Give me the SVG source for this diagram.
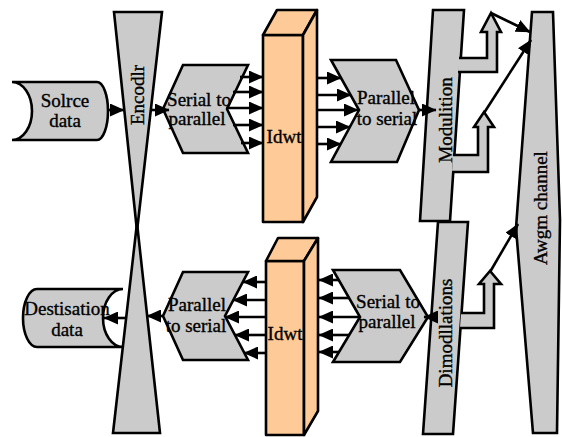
<svg xmlns="http://www.w3.org/2000/svg" width="562" height="437" viewBox="0 0 562 437">
  <defs>
    <marker id="ah" markerUnits="userSpaceOnUse" markerWidth="15" markerHeight="13" refX="14" refY="6.5" orient="auto">
      <path d="M0,0 L14.5,6.5 L0,13 Z" fill="#000"/>
    </marker>
  </defs>
  <style>
    .sh { fill: #cbcbcb; stroke: #000; stroke-width: 2.6; stroke-linejoin: miter; }
    .or { fill: #fdca98; stroke: #000; stroke-width: 2.6; stroke-linejoin: round; }
    .ln { fill: none; stroke: #000; stroke-width: 2.6; marker-end: url(#ah); }
    .bk { fill: #cbcbcb; stroke: #000; stroke-width: 2.6; stroke-linejoin: miter; }
    text { font-family: "Liberation Serif", "Times New Roman", serif; font-size: 19px; fill: #000; stroke: #000; stroke-width: 0.35; }
    .c { text-anchor: middle; }
  </style>

  <rect width="562" height="437" fill="#fff"/>

  <!-- source -->
  <g id="source-data">
    <path class="sh" d="M12,82 L97,82 A11,29 0 0 1 97,140 L12,140 A20,29 0 0 0 12,82 Z"/>
    <text class="c" x="65" y="107">Solrce</text>
    <text class="c" x="65" y="127">data</text>
  </g>

  <!-- encoder (hourglass) -->
  <g id="encoder">
    <polygon class="sh" points="114,12 162,12 137,231"/>
    <polygon class="sh" points="137,223 160,433 113,433"/>
    <text class="c" transform="translate(137,95) rotate(-90)" y="6.5">Encodlr</text>
  </g>

  <!-- destination -->
  <g id="destination-data">
    <path class="sh" d="M37,289 L123,289 A20,29 0 0 0 123,347 L37,347 A14,29 0 0 1 37,289 Z"/>
    <text class="c" x="67" y="315">Destisation</text>
    <text class="c" x="67" y="336">data</text>
  </g>

  <!-- serial to parallel (transmit) -->
  <g id="serial-to-parallel-tx">
    <polygon class="sh" points="183,65 248,65 227,109 248,153 183,153 163,109"/>
    <text class="c" x="199" y="106">Serial to</text>
    <text class="c" x="197" y="125">parallel</text>
  </g>

  <!-- IDWT (transmit) -->
  <g id="idwt-tx">
    <rect class="or" x="263" y="35" width="40" height="187"/>
    <polygon class="or" points="263,35 277,10 317,10 303,35"/>
    <polygon class="or" points="303,35 317,10 317,197 303,222"/>
    <text class="c" x="284" y="143">Idwt</text>
  </g>

  <!-- parallel to serial (transmit) -->
  <g id="parallel-to-serial-tx">
    <polygon class="sh" points="331,60 396,60 419,110 397,162 331,162 359,110"/>
    <text class="c" x="386" y="104">Parallel</text>
    <text class="c" x="387" y="125">to serial</text>
  </g>

  <!-- modulation -->
  <g id="modulation">
    <polygon class="sh" points="433,10 464,10 450,221 420,221"/>
    <text class="c" transform="translate(445,120) rotate(-90)" y="6.5">Modulition</text>
  </g>

  <!-- demodulation -->
  <g id="demodulation">
    <polygon class="sh" points="438,222 468,222 453,434 423,434"/>
    <text class="c" transform="translate(445,333) rotate(-90)" y="6.5">Dimodllations</text>
  </g>

  <!-- AWGN channel -->
  <g id="awgm-channel">
    <path class="sh" d="M532,12 L553,12 L560,220 L557,433 L533,433 L516,228 Z"/>
    <text class="c" transform="translate(540,208) rotate(-90)" y="6.5">Awgm channel</text>
  </g>

  <!-- parallel to serial (receive) -->
  <g id="parallel-to-serial-rx">
    <polygon class="sh" points="183,272 248,272 225,316 248,360 183,360 163,316"/>
    <text class="c" x="197" y="311">Parallel</text>
    <text class="c" x="196" y="332">to serial</text>
  </g>

  <!-- IDWT (receive) -->
  <g id="idwt-rx">
    <rect class="or" x="266" y="261" width="38" height="174"/>
    <polygon class="or" points="266,261 278,238 318,238 304,261"/>
    <polygon class="or" points="304,261 318,238 318,411 304,435"/>
    <text class="c" x="285" y="340">Idwt</text>
  </g>

  <!-- serial to parallel (receive) -->
  <g id="serial-to-parallel-rx">
    <polygon class="sh" points="333,270 400,270 428,317 400,362 333,362 360,317"/>
    <text class="c" x="388" y="308">Serial to</text>
    <text class="c" x="387" y="328">parallel</text>
  </g>

  <!-- connectors -->
  <g id="connectors">
    <line class="ln" x1="108" y1="110" x2="124" y2="110"/>
    <line class="ln" x1="150" y1="110" x2="169" y2="110"/>

    <line class="ln" x1="240" y1="77" x2="263" y2="77"/>
    <line class="ln" x1="233" y1="92" x2="263" y2="92"/>
    <line class="ln" x1="226" y1="108" x2="263" y2="108"/>
    <line class="ln" x1="233" y1="125" x2="263" y2="125"/>
    <line class="ln" x1="241" y1="143" x2="263" y2="143"/>

    <line class="ln" x1="317" y1="78" x2="341" y2="78"/>
    <line class="ln" x1="317" y1="95" x2="351" y2="95"/>
    <line class="ln" x1="317" y1="110" x2="358" y2="110"/>
    <line class="ln" x1="317" y1="127" x2="350" y2="127"/>
    <line class="ln" x1="317" y1="144" x2="341" y2="144"/>

    <line class="ln" x1="418" y1="110" x2="436" y2="110"/>

    <path class="bk" d="M459,58 L487,58 L487,32 L481,32 L491,13 L501,32 L497,32 L497,72 L458,72"/>
    <path class="bk" d="M453,155 L478,155 L478,127 L474,127 L484,112 L494,127 L488,127 L488,172 L452,172"/>
    <line class="ln" x1="491" y1="13" x2="530" y2="32"/>
    <line class="ln" x1="484" y1="113" x2="531" y2="40"/>

    <path class="bk" d="M461,313 L484,313 L484,284 L479,284 L490,271 L501,284 L494,284 L494,328 L460,328"/>
    <line class="ln" x1="490" y1="272" x2="518" y2="224"/>

    <line class="ln" x1="438" y1="317" x2="424" y2="317"/>

    <line class="ln" x1="339" y1="280" x2="319" y2="280"/>
    <line class="ln" x1="349" y1="298" x2="319" y2="298"/>
    <line class="ln" x1="360" y1="317" x2="319" y2="317"/>
    <line class="ln" x1="349" y1="335" x2="319" y2="335"/>
    <line class="ln" x1="339" y1="352" x2="319" y2="352"/>

    <line class="ln" x1="266" y1="282" x2="243" y2="282"/>
    <line class="ln" x1="266" y1="300" x2="233" y2="300"/>
    <line class="ln" x1="266" y1="317" x2="225" y2="317"/>
    <line class="ln" x1="266" y1="335" x2="235" y2="335"/>
    <line class="ln" x1="266" y1="353" x2="244" y2="353"/>

    <line class="ln" x1="163" y1="316" x2="147" y2="316"/>
    <line class="ln" x1="127" y1="318" x2="104" y2="318"/>
  </g>
</svg>
